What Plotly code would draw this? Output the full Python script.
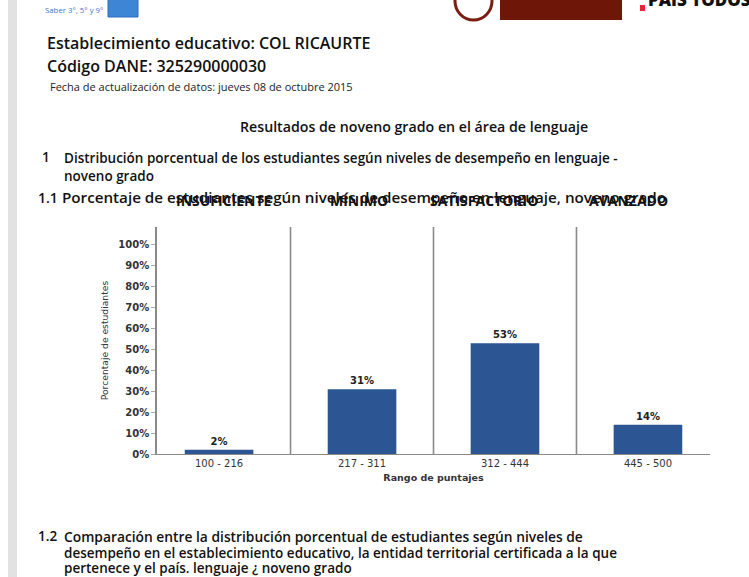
import plotly.graph_objects as go

# ---- data ----
rangos = ["100 - 216", "217 - 311", "312 - 444", "445 - 500"]
niveles = ["INSUFICIENTE", "MÍNIMO", "SATISFACTORIO", "AVANZADO"]
porcentajes = [2, 31, 53, 14]
y_ticks = [0, 10, 20, 30, 40, 50, 60, 70, 80, 90, 100]
y_tick_labels = [f"{v}%" for v in y_ticks]

W, H = 749, 577
L, R, T, B = 157, 710, 227, 454

def px(x):
    return (x - L) / (R - L)

def py(y):
    return (B - y) / (B - T)

BAR = "#2c5593"
GRID = "#8a8a8a"
DOC = "Open Sans"
CH = "DejaVu Sans"

fig = go.Figure()
fig.add_trace(go.Bar(
    x=list(range(len(rangos))), y=porcentajes, width=0.48,
    marker=dict(color=BAR, line=dict(width=0)),
    texttemplate="%{y}%", textposition="outside",
    textfont=dict(family=CH, size=10, color="#222", weight="bold"),
    cliponaxis=False, hoverinfo="skip",
))

shapes = []
# category separators
for b in [0.5, 1.5, 2.5]:
    shapes.append(dict(type="line", xref="x", yref="paper", x0=b, x1=b, y0=0, y1=1,
                       line=dict(color=GRID, width=1.6)))
# left grey strip of the page
shapes.append(dict(type="rect", xref="paper", yref="paper", x0=px(8), x1=px(17),
                   y0=py(580), y1=py(-3), fillcolor="#e2e2e2", line=dict(width=0), layer="below"))
# header icons
shapes.append(dict(type="rect", xref="paper", yref="paper", x0=px(108), x1=px(138),
                   y0=py(17), y1=py(-5), fillcolor="#3d86d6", line=dict(color="#2a6fc0", width=1)))
shapes.append(dict(type="circle", xref="paper", yref="paper", x0=px(455), x1=px(492),
                   y0=py(20), y1=py(-18), fillcolor="#ffffff", line=dict(color="#7a1e12", width=3)))
shapes.append(dict(type="rect", xref="paper", yref="paper", x0=px(500), x1=px(622),
                   y0=py(20), y1=py(-10), fillcolor="#6e1608", line=dict(width=0)))
shapes.append(dict(type="rect", xref="paper", yref="paper", x0=px(640), x1=px(645),
                   y0=py(11), y1=py(5), fillcolor="#e8243a", line=dict(width=0)))

ann = []
def txt(x, y, s, size=14, weight=600, color="#111", family=DOC, xanchor="left"):
    ann.append(dict(x=px(x), y=py(y), xref="paper", yref="paper", text=s, showarrow=False,
                    xanchor=xanchor, yanchor="middle",
                    font=dict(family=family, size=size, color=color, weight=weight)))

txt(43, 10, "Saber 3°, 5° y 9°", size=7.8, weight=400, color="#3a7bd5")
txt(646, -1, "PAÍS TODOS", size=17, weight=800, color="#111")
txt(45, 43, "Establecimiento educativo: COL RICAURTE", size=16, weight=600)
txt(45, 66, "Código DANE: 325290000030", size=16, weight=600)
txt(48, 86, "Fecha de actualización de datos: jueves 08 de octubre 2015", size=11, weight=400, color="#222")
txt(414, 127, "Resultados de noveno grado en el área de lenguaje", size=14.2, weight=600, xanchor="center")
txt(40, 157, "1", size=13.5, weight=600)
txt(62, 158, "Distribución porcentual de los estudiantes según niveles de desempeño en lenguaje -", size=13.5)
txt(62, 176, "noveno grado", size=13.5)
txt(36, 197, "1.1", size=14)
txt(60, 197, "Porcentaje de estudiantes según niveles de desempeño en lenguaje, noveno grado", size=15.2)
for xc, nv in zip([224, 359, 484, 628], niveles):
    txt(xc, 200, nv, size=14, weight=700, xanchor="center")
txt(36, 536, "1.2", size=13.5)
txt(62, 536, "Comparación entre la distribución porcentual de estudiantes según niveles de", size=13.8)
txt(62, 553, "desempeño en el establecimiento educativo, la entidad territorial certificada a la que", size=13.5)
txt(62, 568, "pertenece y el país. lenguaje ¿ noveno grado", size=13.5)

fig.update_layout(
    width=W, height=H,
    margin=dict(l=L, r=W - R, t=T, b=H - B, pad=0),
    paper_bgcolor="white", plot_bgcolor="white",
    showlegend=False, bargap=0.5,
    shapes=shapes, annotations=ann,
    xaxis=dict(
        range=[-0.434, 3.434], tickmode="array", tickvals=list(range(len(rangos))), ticktext=rangos,
        showgrid=False, zeroline=False, showline=True, linecolor=GRID, linewidth=1.2,
        ticks="", tickfont=dict(family=CH, size=10, color="#333"),
        title=dict(text="Rango de puntajes", standoff=6,
                   font=dict(family=CH, size=9.5, color="#333", weight="bold")),
        fixedrange=True,
    ),
    yaxis=dict(
        range=[0, 108.6], tickmode="array", tickvals=y_ticks, ticktext=y_tick_labels,
        showgrid=False, zeroline=False, showline=True, linecolor=GRID, linewidth=1.6,
        ticks="outside", ticklen=4, tickcolor="#aaa",
        tickfont=dict(family=CH, size=10, color="#333", weight="bold"),
        title=dict(text="Porcentaje de estudiantes", standoff=8,
                   font=dict(family=CH, size=9.2, color="#333")),
        fixedrange=True,
    ),
)

fig.write_html("out.html", config={"displayModeBar": False},
               post_script="document.body.style.margin='0';document.body.style.padding='0';")
